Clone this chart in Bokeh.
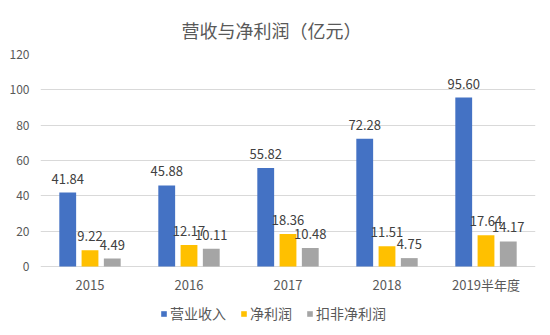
from bokeh.plotting import figure
from bokeh.models import ColumnDataSource, Legend, LegendItem, FixedTicker
from bokeh.transform import dodge
from bokeh.core.properties import value
from bokeh.embed import file_html
from bokeh.resources import INLINE

categories = ["2015", "2016", "2017", "2018", "2019半年度"]
revenue = [41.84, 45.88, 55.82, 72.28, 95.60]
net_profit = [9.22, 12.17, 18.36, 11.51, 17.64]
deducted_profit = [4.49, 10.11, 10.48, 4.75, 14.17]
series_names = ["营业收入", "净利润", "扣非净利润"]
y_ticks = [0, 20, 40, 60, 80, 100, 120]

colors = ["#4472C4", "#FFC000", "#A5A5A5"]
FONT = "Noto Sans CJK SC"

src = ColumnDataSource(dict(
    cat=categories,
    zero=[0] * len(categories),
    rev=revenue, net=net_profit, ded=deducted_profit,
    rev_l=[f"{v:.2f}" for v in revenue],
    net_l=[f"{v:.2f}" for v in net_profit],
    ded_l=[f"{v:.2f}" for v in deducted_profit],
))

p = figure(x_range=categories, y_range=(-39.05, 120), width=550, height=335,
           output_backend="svg", toolbar_location=None,
           min_border_left=40, min_border_right=15, min_border_top=54, min_border_bottom=0)
p.title.text = "营收与净利润（亿元）"
p.title.align = "left"
p.title.offset = 141
p.title.standoff = 23
p.title.text_font = FONT
p.title.text_font_size = "18px"
p.title.text_font_style = "normal"
p.title.text_color = "#595959"

offs = [-0.225, 0.0, 0.225]
fields = ["rev", "net", "ded"]
renderers = []
for f, o, c in zip(fields, offs, colors):
    r = p.vbar(x=dodge("cat", o, range=p.x_range), top=f, bottom="zero", width=0.17, source=src,
               fill_color=c, line_color=None)
    renderers.append(r)
    p.text(x=dodge("cat", o, range=p.x_range), y=f, text=f + "_l", source=src,
           text_align="center", text_baseline="bottom", y_offset=-9,
           text_font=value(FONT), text_font_size="13px", text_color="#404040")

# category labels along the baseline
p.text(x="cat", y="zero", text="cat", source=src, text_align="center", text_baseline="middle",
       y_offset=18, text_font=value(FONT), text_font_size="13px", text_color="#595959")

legend = Legend(items=[LegendItem(label=n, renderers=[r]) for n, r in zip(series_names, renderers)],
                orientation="horizontal", location=(120, 12),
                label_text_font=FONT, label_text_font_size="14px", label_text_color="#595959",
                glyph_width=7, glyph_height=7, spacing=14, label_standoff=3,
                border_line_color=None, background_fill_alpha=0, padding=0, margin=0)
p.add_layout(legend)

p.xaxis.visible = False
p.yaxis.ticker = FixedTicker(ticks=y_ticks)
p.yaxis.axis_line_color = None
p.yaxis.major_tick_line_color = None
p.yaxis.major_tick_out = 0
p.yaxis.major_tick_in = 0
p.yaxis.minor_tick_line_color = None
p.yaxis.major_label_standoff = 11
p.yaxis.major_label_text_font = FONT
p.yaxis.major_label_text_font_size = "12px"
p.yaxis.major_label_text_color = "#595959"
p.xgrid.grid_line_color = None
p.ygrid.grid_line_color = "#d9d9d9"
p.ygrid.ticker = FixedTicker(ticks=y_ticks)
p.outline_line_color = None
p.border_fill_color = "white"
p.background_fill_color = "white"
p.x_range.range_padding = 0

open("out.html", "w").write(file_html(p, INLINE))
